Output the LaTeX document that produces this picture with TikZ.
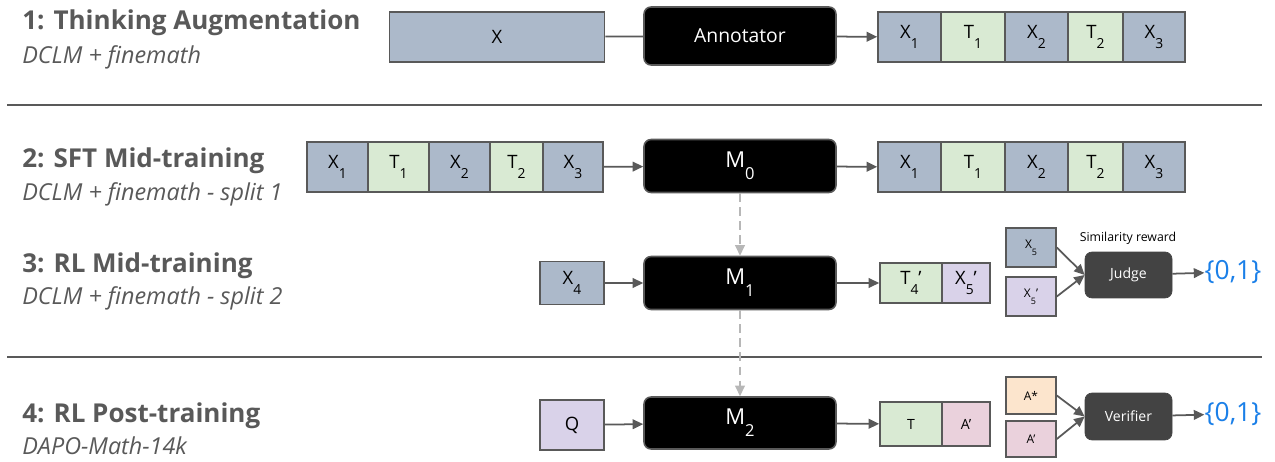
\documentclass[tikz,border=0pt]{standalone}
\usepackage{fontspec}
\setmainfont{Open Sans}
\usetikzlibrary{arrows.meta}
\usetikzlibrary{shapes}

\definecolor{xblue}{HTML}{ACB9CA}
\definecolor{tgreen}{HTML}{D9EAD3}
\definecolor{qpurple}{HTML}{D9D2E9}
\definecolor{apink}{HTML}{EAD1DC}
\definecolor{aorange}{HTML}{FCE5CD}
\definecolor{edgegrey}{HTML}{595959}
\definecolor{textgrey}{HTML}{595959}
\definecolor{dashgrey}{HTML}{B7B7B7}
\definecolor{judgegrey}{HTML}{434343}
\definecolor{rewardblue}{HTML}{1A7FE8}

% low subscript, as the slides set it
\newcommand{\idx}[1]{\raisebox{-0.55em}{\scalebox{0.75}{#1}}}

\tikzset{
  cell/.style={draw=edgegrey, line width=0.9pt, inner sep=0pt, font=\fontsize{10.5}{12}\selectfont},
  small/.style={cell, minimum width=1cm, font=\fontsize{6.8}{8}\selectfont},
  model/.style={draw=edgegrey, fill=black, text=white, rounded corners=4pt, line width=0.9pt,
    minimum width=3.84cm, font=\fontsize{12.5}{14}\selectfont},
  scorer/.style={draw=judgegrey, fill=judgegrey, text=white, rounded corners=4pt,
    minimum width=1.74cm, font=\fontsize{8}{10}\selectfont},
  stage/.style={anchor=west, inner sep=0pt, text=textgrey, font=\bfseries\fontsize{14.8}{17}\selectfont},
  source/.style={anchor=west, inner sep=0pt, text=textgrey, font=\itshape\fontsize{13.3}{15}\selectfont},
  reward/.style={text=rewardblue, inner sep=0pt, font=\fontsize{15}{18}\selectfont},
  flow/.style={draw=edgegrey, line width=1pt},
  pass/.style={draw=dashgrey, line width=1pt, dash pattern=on 5pt off 3pt},
}

\begin{document}
\begin{tikzpicture}[x=0.02cm, y=-0.02cm, >={Triangle[length=6pt,width=5.5pt]}]
    \useasboundingbox (0,0) rectangle (1275,462);

    % stages
    \node[stage] (S1) at (22,23) {1: Thinking Augmentation};
    \node[source] (D1) at (22,57) {DCLM + finemath};
    \node[stage] (S2) at (22,161) {2: SFT Mid-training};
    \node[source] (D2) at (22,194) {DCLM + finemath - split 1};
    \node[stage] (S3) at (22,266) {3: RL Mid-training};
    \node[source] (D3) at (22,298) {DCLM + finemath - split 2};
    \node[stage] (S4) at (22,416) {4: RL Post-training};
    \node[source] (D4) at (22,446) {DAPO-Math-14k};

    \coordinate (L1a) at (7,105);
    \coordinate (L1b) at (1262,105);
    \coordinate (L2a) at (7,357);
    \coordinate (L2b) at (1262,357);
    \draw[edgegrey, line width=1.1pt] (L1a) -- (L1b);
    \draw[edgegrey, line width=1.1pt] (L2a) -- (L2b);

    % 1: annotation
    \node[cell, fill=xblue, minimum width=4.3cm, minimum height=1cm] (X) at (497,37) {X};
    \node[model, minimum height=1.16cm, font=\fontsize{11}{13}\selectfont] (Ann) at (740,36) {Annotator};
    \node[cell, fill=xblue, minimum width=1.26cm, minimum height=1cm] (AX1) at (909.5,37) {X\idx{1}};
    \node[cell, fill=tgreen, minimum width=1.28cm, minimum height=1cm] (AT1) at (973,37) {T\idx{1}};
    \node[cell, fill=xblue, minimum width=1.26cm, minimum height=1cm] (AX2) at (1036.5,37) {X\idx{2}};
    \node[cell, fill=tgreen, minimum width=1.10cm, minimum height=1cm] (AT2) at (1095.5,37) {T\idx{2}};
    \node[cell, fill=xblue, minimum width=1.24cm, minimum height=1cm] (AX3) at (1154,37) {X\idx{3}};

    \draw[flow] (X) -- (Ann);
    \draw[flow, ->] (Ann) -- (AX1);

    % 2: sft
    \node[cell, fill=xblue, minimum width=1.22cm, minimum height=1cm] (IX1) at (337.5,167) {X\idx{1}};
    \node[cell, fill=tgreen, minimum width=1.22cm, minimum height=1cm] (IT1) at (398.5,167) {T\idx{1}};
    \node[cell, fill=xblue, minimum width=1.22cm, minimum height=1cm] (IX2) at (459.5,167) {X\idx{2}};
    \node[cell, fill=tgreen, minimum width=1.06cm, minimum height=1cm] (IT2) at (516.5,167) {T\idx{2}};
    \node[cell, fill=xblue, minimum width=1.20cm, minimum height=1cm] (IX3) at (573,167) {X\idx{3}};
    \node[model, minimum height=1.06cm] (M0) at (740,166) {M\idx{0}};
    \node[cell, fill=xblue, minimum width=1.26cm, minimum height=1cm] (OX1) at (909.5,167) {X\idx{1}};
    \node[cell, fill=tgreen, minimum width=1.28cm, minimum height=1cm] (OT1) at (973,167) {T\idx{1}};
    \node[cell, fill=xblue, minimum width=1.26cm, minimum height=1cm] (OX2) at (1036.5,167) {X\idx{2}};
    \node[cell, fill=tgreen, minimum width=1.10cm, minimum height=1cm] (OT2) at (1095.5,167) {T\idx{2}};
    \node[cell, fill=xblue, minimum width=1.24cm, minimum height=1cm] (OX3) at (1154,167) {X\idx{3}};

    \draw[flow, ->] (IX3) -- (M0);
    \draw[flow, ->] (M0) -- (OX1);

    % 3: rl mid-training
    \node[cell, fill=xblue, minimum width=1.28cm, minimum height=0.86cm] (X4) at (572,283) {X\idx{4}};
    \node[model, minimum height=1.06cm] (M1) at (740,283) {M\idx{1}};
    \node[cell, fill=tgreen, minimum width=1.24cm, minimum height=0.8cm] (T4) at (911,283) {T\idx{4}’};
    \node[cell, fill=qpurple, minimum width=0.96cm, minimum height=0.8cm] (X5p) at (966,283) {X\idx{5}’};
    \node[small, fill=xblue, minimum height=0.78cm] (RX5) at (1031,247.5) {X\idx{5}};
    \node[small, fill=qpurple, minimum height=0.78cm] (RX5p) at (1031,296.5) {X\idx{5}’};
    \node[scorer, minimum height=0.92cm] (Judge) at (1128.5,275) {Judge};
    \node[font=\fontsize{7}{8}\selectfont, inner sep=0pt] (Sim) at (1128,238) {Similarity reward};
    \node[reward] (R1) at (1233,272) {\{0,1\}};

    \draw[pass, ->, dashgrey] (M0) -- (M1);
    \draw[flow, ->] (X4) -- (M1);
    \draw[flow, ->] (M1) -- (T4);
    \draw[flow, ->] (RX5.east) -- (Judge.west);
    \draw[flow, ->] (RX5p.east) -- (Judge.west);
    \draw[flow, ->] (Judge) -- (R1);

    % 4: rl post-training
    \node[cell, fill=qpurple, minimum width=1.28cm, minimum height=1cm] (Q) at (572,425) {Q};
    \node[model, minimum height=1.04cm] (M2) at (740,423) {M\idx{2}};
    \node[cell, fill=tgreen, minimum width=1.24cm, minimum height=0.88cm, font=\fontsize{8}{9}\selectfont] (T) at (911,424) {T};
    \node[cell, fill=apink, minimum width=0.96cm, minimum height=0.88cm, font=\fontsize{8}{9}\selectfont] (Ap) at (966,424) {A’};
    \node[small, fill=aorange, minimum height=0.74cm] (Astar) at (1031,395.5) {A*};
    \node[small, fill=apink, minimum height=0.72cm] (Apred) at (1031,439) {A’};
    \node[scorer, minimum height=0.94cm] (Ver) at (1128.5,416.5) {Verifier};
    \node[reward] (R2) at (1233,414) {\{0,1\}};

    \draw[pass, ->, dashgrey] (M1) -- (M2);
    \draw[flow, ->] (Q) -- (M2);
    \draw[flow, ->] (M2) -- (T);
    \draw[flow, ->] (Astar.east) -- (Ver.west);
    \draw[flow, ->] (Apred.east) -- (Ver.west);
    \draw[flow, ->] (Ver) -- (R2);

\end{tikzpicture}
\end{document}
